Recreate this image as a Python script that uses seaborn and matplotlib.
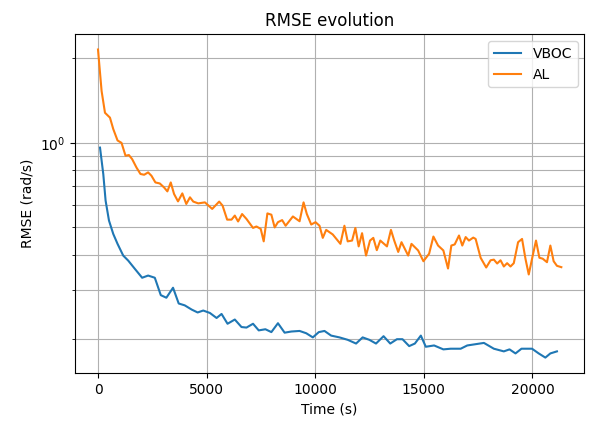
"""RMSE evolution (VBOC vs AL) on a log y-axis"""

import matplotlib
matplotlib.use("Agg")
import matplotlib.pyplot as plt
import seaborn as sns
import pandas as pd

# VBOC series: time (s) and RMSE (rad/s)
vboc_time = [92, 243, 349, 505, 702, 899, 1160, 1390, 1697, 2032, 2307, 2615,
             2890, 3147, 3454, 3715, 3991, 4312, 4587, 4844, 5151, 5459, 5688,
             5963, 6298, 6605, 6835, 7137, 7399, 7706, 7981, 8284, 8591, 8899,
             9280, 9587, 9890, 10165, 10426, 10733, 11114, 11495, 11880, 12183,
             12490, 12798, 13146, 13454, 13761, 14018, 14325, 14587, 14862,
             15091, 15472, 15899, 16238, 16697, 16999, 17385, 17766, 18224,
             18683, 18944, 19220, 19495, 19981, 20288, 20595, 20825, 21128]
vboc_rmse = [0.962, 0.774, 0.623, 0.529, 0.474, 0.437, 0.397, 0.381, 0.356,
             0.331, 0.337, 0.331, 0.287, 0.281, 0.305, 0.268, 0.264, 0.255,
             0.249, 0.253, 0.248, 0.238, 0.246, 0.227, 0.235, 0.221, 0.220,
             0.227, 0.215, 0.217, 0.212, 0.228, 0.211, 0.213, 0.214, 0.210,
             0.203, 0.212, 0.214, 0.206, 0.203, 0.199, 0.193, 0.203, 0.199,
             0.193, 0.205, 0.193, 0.200, 0.200, 0.189, 0.193, 0.206, 0.188,
             0.190, 0.184, 0.185, 0.185, 0.190, 0.192, 0.194, 0.185, 0.181,
             0.184, 0.178, 0.185, 0.185, 0.178, 0.172, 0.178, 0.181]

# AL series
al_time = [0, 165, 321, 550, 702, 899, 1083, 1266, 1422, 1573, 1771, 1954,
           2124, 2307, 2459, 2642, 2844, 3041, 3193, 3349, 3500, 3683, 3881,
           4064, 4234, 4385, 4615, 4922, 5257, 5578, 5734, 5945, 6147, 6298,
           6449, 6633, 6835, 7137, 7293, 7491, 7628, 7798, 7981, 8133, 8284,
           8477, 8637, 8972, 9280, 9463, 9614, 9816, 10013, 10197, 10348,
           10504, 10807, 11160, 11344, 11495, 11697, 11848, 12000, 12156,
           12339, 12522, 12674, 12835, 12995, 13302, 13486, 13637, 13821,
           13972, 14280, 14431, 14738, 14981, 15243, 15440, 15656, 15899,
           16114, 16266, 16421, 16619, 16770, 16926, 17077, 17275, 17385,
           17614, 17871, 18073, 18224, 18376, 18531, 18683, 18834, 18990,
           19141, 19339, 19522, 19678, 19830, 20013, 20164, 20320, 20472,
           20669, 20825, 20976, 21128, 21330]
al_rmse = [2.15, 1.53, 1.28, 1.23, 1.12, 1.02, 1.00, 0.90, 0.905, 0.875,
           0.817, 0.775, 0.77, 0.785, 0.764, 0.723, 0.717, 0.694, 0.672,
           0.723, 0.658, 0.619, 0.661, 0.606, 0.64, 0.618, 0.609, 0.614,
           0.582, 0.618, 0.598, 0.533, 0.533, 0.551, 0.525, 0.558, 0.536,
           0.498, 0.504, 0.494, 0.446, 0.561, 0.555, 0.50, 0.522, 0.531,
           0.507, 0.547, 0.526, 0.614, 0.558, 0.512, 0.522, 0.507, 0.459,
           0.490, 0.472, 0.437, 0.507, 0.446, 0.449, 0.498, 0.428, 0.477,
           0.397, 0.449, 0.459, 0.415, 0.449, 0.428, 0.490, 0.449, 0.409,
           0.443, 0.397, 0.437, 0.414, 0.379, 0.403, 0.464, 0.431, 0.414,
           0.357, 0.431, 0.435, 0.468, 0.431, 0.462, 0.449, 0.460, 0.455,
           0.390, 0.360, 0.382, 0.384, 0.372, 0.382, 0.363, 0.373, 0.363,
           0.373, 0.443, 0.455, 0.387, 0.340, 0.397, 0.449, 0.390, 0.387,
           0.376, 0.431, 0.379, 0.365, 0.361]

df_vboc = pd.DataFrame({"time": vboc_time, "rmse": vboc_rmse})
df_al = pd.DataFrame({"time": al_time, "rmse": al_rmse})

fig, ax = plt.subplots(figsize=(5.94, 4.21), dpi=100)
fig.subplots_adjust(left=0.126, right=0.984, top=0.919, bottom=0.114)

sns.lineplot(data=df_vboc, x="time", y="rmse", ax=ax, color="#1f77b4",
             label="VBOC", estimator=None, sort=False)
sns.lineplot(data=df_al, x="time", y="rmse", ax=ax, color="#ff7f0e",
             label="AL", estimator=None, sort=False)

ax.set_yscale("log")
ax.grid(True, which="both", color="#b0b0b0", linewidth=0.8)
ax.set_title("RMSE evolution")
ax.set_xlabel("Time (s)")
ax.set_ylabel("RMSE (rad/s)")
ax.legend(loc="upper right")

fig.savefig("out.png", dpi=100)
